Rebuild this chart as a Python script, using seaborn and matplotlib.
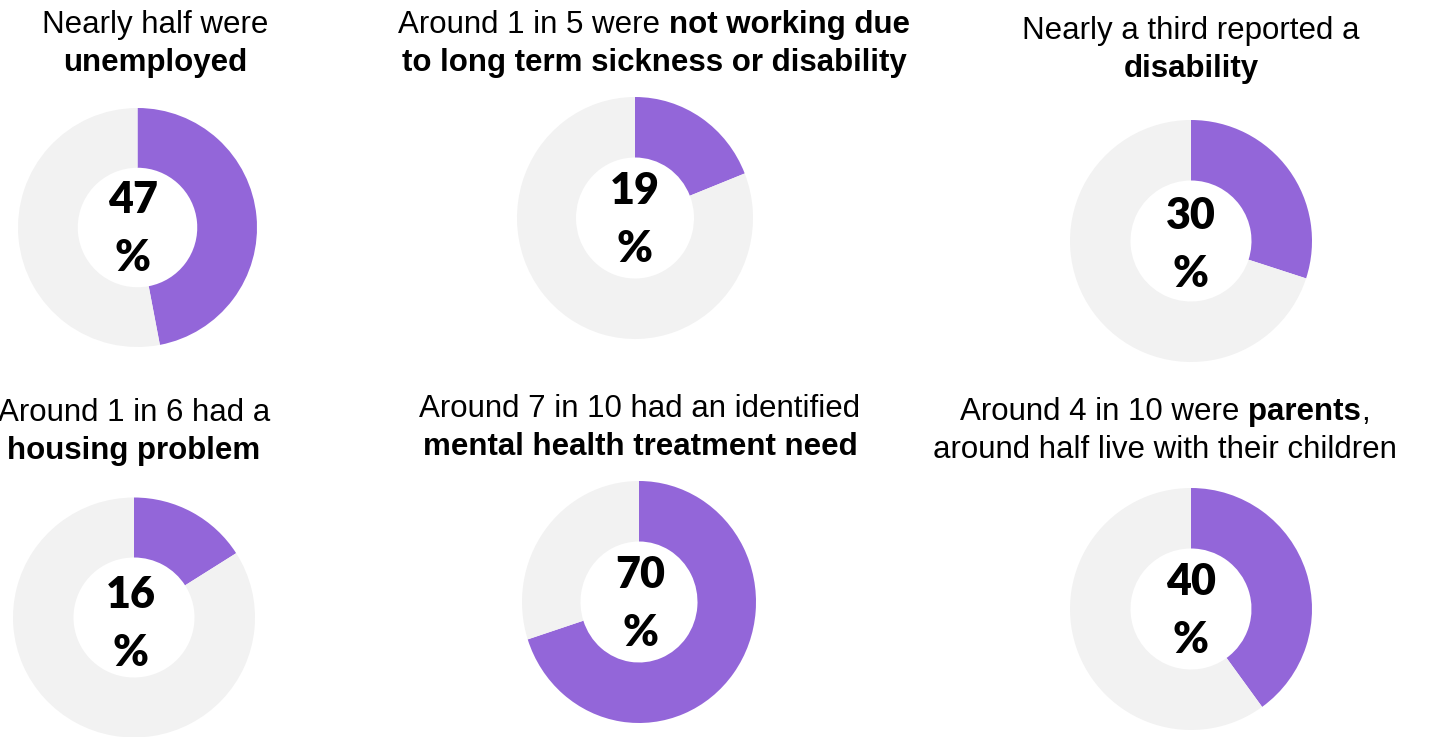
import matplotlib
matplotlib.use("Agg")
import matplotlib.pyplot as plt
import seaborn as sns

# ---------------- data ----------------
values = [47, 19, 30, 16, 70, 40]
title_line1 = [
    [("Nearly half were", False)],
    [("Around 1 in 5 were ", False), ("not working due", True)],
    [("Nearly a third reported a", False)],
    [("Around 1 in 6 had a", False)],
    [("Around 7 in 10 had an identified", False)],
    [("Around 4 in 10 were ", False), ("parents", True), (",", False)],
]
title_line2 = [
    [("unemployed", True)],
    [("to long term sickness or disability", True)],
    [("disability", True)],
    [("housing problem", True)],
    [("mental health treatment need", True)],
    [("around half live with their children", False)],
]
percent_sign = "%"

# ---------------- style ----------------
PURPLE = "#9366D9"
GREY = "#F2F2F2"
palette = sns.color_palette([PURPLE, GREY])

sns.set_theme(style="white")
plt.rcParams["font.family"] = ["Liberation Sans", "DejaVu Sans"]

W, H = 1431, 737
fig = plt.figure(figsize=(W / 100, H / 100), dpi=100)
fig.patch.set_facecolor("white")

# layout (pixel positions)
centers = [(137.5, 227.5), (635, 218), (1191, 241), (134, 617.5), (639, 602), (1191, 609)]
radii = [(119.5, 119.5), (118, 121), (121, 121), (121, 120), (117, 121), (121, 121)]
title_x = [155, 654, 1191, 134, 640, 1165]
title_y1 = [33, 33, 39, 421, 417, 420]
LINE_GAP = 38
num_x = [133, 635, 1191, 131, 640, 1191]
num_y = [213, 204, 229, 608, 588, 595]
PCT_GAP = 58

TITLE_SIZE = 22.5
NUM_SIZE = 31
NUM_FONT = ["Lato", "DejaVu Sans"]


def fx(x):
    return x / W


def fy(y):
    return 1 - y / H


# ---------------- donuts ----------------
for i, v in enumerate(values):
    cx, cy = centers[i]
    rx, ry = radii[i]
    ax = fig.add_axes([fx(cx - rx), fy(cy + ry), 2 * rx / W, 2 * ry / H])
    ax.pie([v, 100 - v], colors=palette, startangle=90, counterclock=False,
           radius=1, wedgeprops=dict(width=0.5, edgecolor="none", linewidth=0))
    ax.set_aspect("auto")
    ax.set_xlim(-1, 1)
    ax.set_ylim(-1, 1)
    ax.axis("off")

# ---------------- texts ----------------
renderer = fig.canvas.get_renderer()


def text_width(s, bold):
    t = fig.text(0, 0, "|" + s + "|", fontsize=TITLE_SIZE,
                 fontweight="bold" if bold else "normal")
    w1 = t.get_window_extent(renderer).width
    t.set_text("||")
    w2 = t.get_window_extent(renderer).width
    t.remove()
    return w1 - w2


def draw_line(segments, cx, y):
    widths = [text_width(s, b) for s, b in segments]
    x = cx - sum(widths) / 2
    for (s, b), w in zip(segments, widths):
        stripped = s.strip()
        if stripped:
            lead = len(s) - len(s.lstrip())
            off = text_width(" " * lead, b) if lead else 0
            fig.text(fx(x + off), fy(y), stripped, fontsize=TITLE_SIZE,
                     fontweight="bold" if b else "normal", color="black",
                     ha="left", va="baseline")
        x += w


for i, v in enumerate(values):
    draw_line(title_line1[i], title_x[i], title_y1[i])
    draw_line(title_line2[i], title_x[i], title_y1[i] + LINE_GAP)
    fig.text(fx(num_x[i]), fy(num_y[i]), f"{v}", fontsize=NUM_SIZE,
             fontweight="heavy", family=NUM_FONT, ha="center", va="baseline",
             color="black")
    fig.text(fx(num_x[i]), fy(num_y[i] + PCT_GAP), percent_sign,
             fontsize=NUM_SIZE, fontweight="heavy", family=NUM_FONT,
             ha="center", va="baseline", color="black")

fig.savefig("out.png", dpi=100, facecolor="white")
